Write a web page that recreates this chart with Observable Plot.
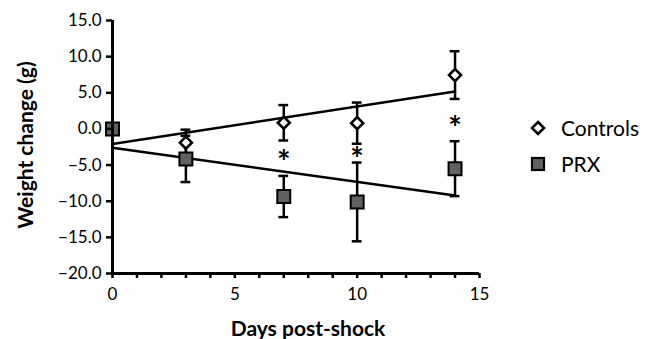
<!DOCTYPE html>
<html><head><meta charset="utf-8">
<script src="https://cdn.jsdelivr.net/npm/d3@7"></script>
<script src="https://cdn.jsdelivr.net/npm/@observablehq/plot@0.6"></script>
<style>
body{margin:0;background:#fff;}
#wrap{position:relative;width:656px;height:339px;overflow:hidden;font-family:Lato,sans-serif;background:#fff;}
.lsym{position:absolute;}
.ltxt{position:absolute;font-size:21px;color:#000;line-height:1;white-space:nowrap;}
</style></head><body><div id="wrap"></div>
<script>
// ---- data ----
const days = [0, 3, 7, 10, 14];
const controlsMean = [0, -1.9, 0.85, 0.8, 7.45];
const controlsErr = [0, 1.8, 2.45, 2.85, 3.3];
const prxMean = [0, -4.15, -9.35, -10.1, -5.5];
const prxErr = [0, 3.2, 2.85, 5.45, 3.8];
const starDays = [7, 10, 14];
const starValues = [-3.8, -3.5, 0.9];
const yTicks = [-20, -15, -10, -5, 0, 5, 10, 15];
const xTicks = [0,1,2,3,4,5,6,7,8,9,10,11,12,13,14,15];
const xTickLabels = [0, 5, 10, 15];
const seriesNames = ["Controls", "PRX"];
const yTitle = "Weight change (g)";
const xTitle = "Days post-shock";

const controls = days.map((d, i) => ({series: seriesNames[0], day: d, mean: controlsMean[i], err: controlsErr[i]}));
const prx = days.map((d, i) => ({series: seriesNames[1], day: d, mean: prxMean[i], err: prxErr[i]}));
const all = controls.concat(prx);
const withErr = all.filter(d => d.err > 0);
const stars = starDays.map((d, i) => ({day: d, y: starValues[i]}));

const capHalf = 0.2;
const chart = Plot.plot({
  width: 656, height: 339,
  marginLeft: 112, marginRight: 177, marginTop: 20, marginBottom: 66,
  style: {fontFamily: "Lato, sans-serif", fontSize: "17px", color: "#000", background: "#fff"},
  x: {domain: [0, 15]},
  y: {domain: [-20, 15]},
  marks: [
    Plot.ruleX(withErr, {x: "day", y1: d => d.mean - d.err, y2: d => d.mean + d.err, stroke: "#000", strokeWidth: 2.5}),
    Plot.ruleY(withErr, {y: d => d.mean - d.err, x1: d => d.day - capHalf, x2: d => d.day + capHalf, stroke: "#000", strokeWidth: 2.5}),
    Plot.ruleY(withErr, {y: d => d.mean + d.err, x1: d => d.day - capHalf, x2: d => d.day + capHalf, stroke: "#000", strokeWidth: 2.5}),
    Plot.linearRegressionY(all, {x: "day", y: "mean", z: "series", stroke: "#000", strokeWidth: 2.5, ci: 0}),
    Plot.dot(controls, {x: "day", y: "mean", symbol: "diamond2", r: 5.4, fill: "#fff", stroke: "#000", strokeWidth: 2.6}),
    Plot.dot(prx, {x: "day", y: "mean", symbol: "square", r: 7.3, fill: "#616161", stroke: "#000", strokeWidth: 2}),
    Plot.text(stars, {x: "day", y: "y", text: () => "*", fontSize: 32, fontWeight: "bold", lineAnchor: "middle", dy: 7}),
    Plot.ruleX([0], {stroke: "#000", strokeWidth: 3}),
    Plot.ruleY([-20], {stroke: "#000", strokeWidth: 3}),
    Plot.axisY({ticks: yTicks, tickFormat: d3.format(".1f"), tickSize: 6, tickPadding: 5, strokeWidth: 2.5, label: null}),
    Plot.axisX({ticks: xTicks, tickFormat: d => xTickLabels.includes(d) ? String(d) : "", tickSize: 5, tickPadding: 9, strokeWidth: 2.5, label: null}),
    Plot.text([yTitle], {frameAnchor: "left", textAnchor: "middle", lineAnchor: "middle", rotate: -90, dx: -86, dy: -2, fontSize: 21, fontWeight: "bold"}),
    Plot.text([xTitle], {frameAnchor: "bottom", textAnchor: "middle", dx: 12, dy: 62, lineAnchor: "bottom", fontSize: 21, fontWeight: "bold"})
  ]
});
const wrap = document.getElementById("wrap");
wrap.appendChild(chart);

// legend
const legend = [
  {name: seriesNames[0], cy: 127.5, svg: '<svg class="lsym" width="18" height="18" style="left:529px;top:118.5px"><path d="M9,3 L15,9 L9,15 L3,9 Z" fill="#fff" stroke="#000" stroke-width="2.6"/></svg>'},
  {name: seriesNames[1], cy: 163.5, svg: '<svg class="lsym" width="18" height="18" style="left:529px;top:154.5px"><rect x="3" y="3" width="12" height="12" fill="#616161" stroke="#000" stroke-width="2.2"/></svg>'}
];
for (const l of legend) {
  wrap.insertAdjacentHTML("beforeend", l.svg);
  const t = document.createElement("div");
  t.className = "ltxt";
  t.textContent = l.name;
  t.style.left = "561px";
  t.style.top = (l.cy - 11) + "px";
  wrap.appendChild(t);
}
</script>
</body></html>
